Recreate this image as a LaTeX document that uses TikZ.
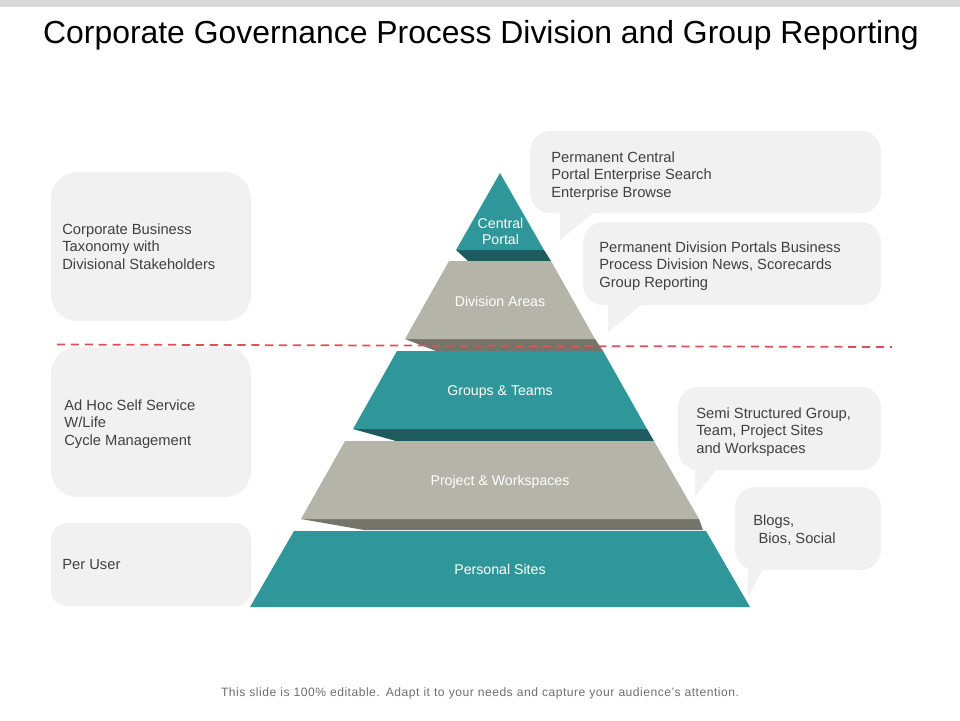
\documentclass[tikz,border=0pt]{standalone}
\usepackage{fontspec}
\setmainfont{Liberation Sans}
\usetikzlibrary{positioning}
\definecolor{tealtier}{RGB}{47,150,154}
\definecolor{tealdark}{RGB}{29,91,95}
\definecolor{stonetier}{RGB}{181,180,169}
\definecolor{stonedark}{RGB}{117,116,104}
\definecolor{boxgray}{RGB}{241,241,241}
\definecolor{bandgray}{RGB}{217,217,217}
\definecolor{textgray}{RGB}{64,64,64}
\definecolor{footgray}{RGB}{110,110,110}
\definecolor{cutred}{RGB}{224,78,88}
\tikzset{
  tierlabel/.style={text=white, align=center, inner sep=0pt, font=\fontsize{8.05}{9.3}\selectfont},
  boxlabel/.style={text=textgray, align=left, anchor=west, inner sep=0pt, font=\fontsize{8.38}{9.95}\selectfont},
  bubble/.style={fill=boxgray, rounded corners=11.5}
}
\begin{document}
\begin{tikzpicture}[x=0.02cm, y=-0.02cm]
  \useasboundingbox (0,0) rectangle (960,720);

  % Top band and title
  \fill[bandgray] (0,0) rectangle (960,7);
  \node[inner sep=0pt, font=\fontsize{18.15}{22}\selectfont] (title) at (481,35.5) {Corporate Governance Process Division and Group Reporting};

  % Left boxes
  \fill[boxgray, rounded corners=15] (51,172) rectangle (251,321);
  \fill[boxgray, rounded corners=15] (51,347) rectangle (251,497);
  \fill[boxgray, rounded corners=9] (51,523) rectangle (251,606);
  \node[boxlabel] (taxonomy) at (62,246.5) {Corporate Business\\Taxonomy with\\Divisional Stakeholders};
  \node[boxlabel] (adhoc) at (64,424) {Ad Hoc Self Service\\W/Life\\Cycle Management};
  \node[boxlabel] (peruser) at (62,564) {Per User};

  % Speech bubbles
  \fill[boxgray] (560,205) -- (560,240) -- (597,210) -- cycle;
  \fill[bubble] (530,131) rectangle (881,213);
  \fill[boxgray] (608,297) -- (608,332) -- (645,302) -- cycle;
  \fill[bubble] (583,222) rectangle (881,305);
  \fill[boxgray] (695,462) -- (695,497) -- (718,467) -- cycle;
  \fill[bubble] (678,387) rectangle (881,470);
  \fill[boxgray] (748,562) -- (748,597) -- (764,567) -- cycle;
  \fill[bubble] (735,487) rectangle (881,570);
  \node[boxlabel] (central) at (551,176) {Permanent Central\\Portal Enterprise Search\\Enterprise Browse};
  \node[boxlabel] (division) at (599,266) {Permanent Division Portals Business\\Process Division News, Scorecards\\Group Reporting};
  \node[boxlabel] (semi) at (696,432) {Semi Structured Group,\\Team, Project Sites\\and Workspaces};
  \node[boxlabel] (blogs) at (753,530) {Blogs,\\\hspace*{3pt}Bios, Social};

  % Pyramid shadows
  \fill[tealdark] (456,250) -- (544,250) -- (551,261) -- (468,261) -- cycle;
  \fill[stonedark] (405,339) -- (595,339) -- (603,351) -- (436,351) -- cycle;
  \fill[tealdark] (353,429) -- (647,429) -- (654,441) -- (396,441) -- cycle;
  \fill[stonedark] (301,519) -- (699,519) -- (703,530) -- (364,530) -- cycle;

  % Pyramid tiers
  \fill[tealtier] (500,173) -- (544,250) -- (456,250) -- cycle;
  \fill[stonetier] (449,261) -- (551,261) -- (595,339) -- (405,339) -- cycle;
  \fill[tealtier] (397,351) -- (603,351) -- (647,429) -- (353,429) -- cycle;
  \fill[stonetier] (345,441) -- (654,441) -- (699,519) -- (301,519) -- cycle;
  \fill[tealtier] (294,531) -- (706,531) -- (750,607) -- (250,607) -- cycle;
  \node[tierlabel] (portal) at (500.5,231.5) {Central\\Portal};
  \node[tierlabel] (areas) at (500,301) {Division Areas};
  \node[tierlabel] (groups) at (500,392.5) {Groups \& Teams};
  \node[tierlabel] (project) at (500,481.5) {Project \& Workspaces};
  \node[tierlabel] (personal) at (500,569) {Personal Sites};

  % Red line
  \draw[cutred, line width=1pt, dash pattern=on 4.6pt off 3.3pt] (57,344.5) -- (892,347);

  % Footer
  \node[footgray, inner sep=0pt, font=\fontsize{6.9}{8}\selectfont, text width=320pt, align=center] (footer) at (480,693) {\addfontfeature{LetterSpace=4}This slide is 100\% editable. Adapt it to your needs and capture your audience's attention.};
\end{tikzpicture}
\end{document}
